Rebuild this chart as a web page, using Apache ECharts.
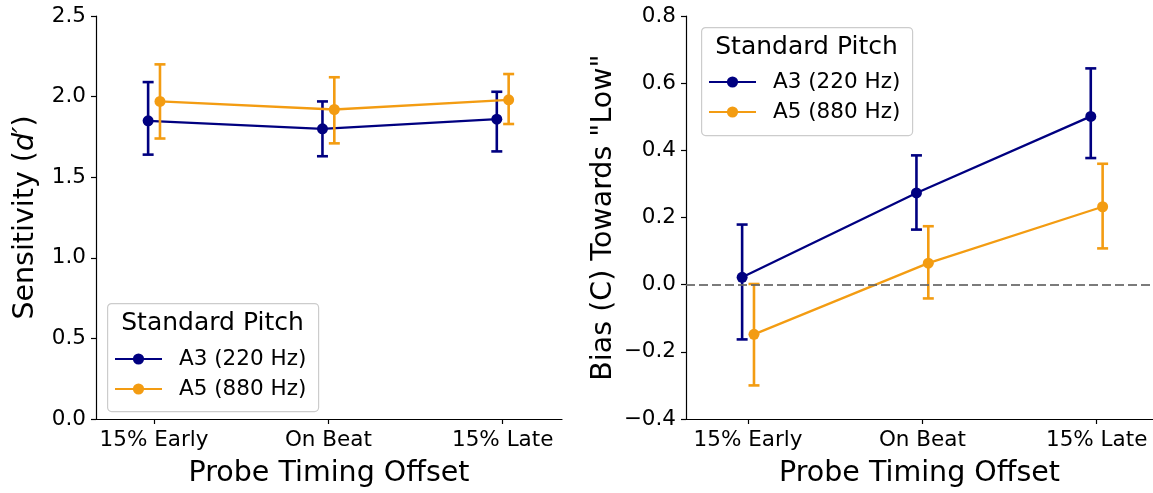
<!DOCTYPE html>
<html>
<head>
<meta charset="utf-8">
<script src="https://cdn.jsdelivr.net/npm/echarts@6/dist/echarts.min.js"></script>
<style>html,body{margin:0;padding:0;background:#fff}#c{width:1153px;height:493px}</style>
</head>
<body>
<div id="c"></div>
<script>
const categories = ['15% Early', 'On Beat', '15% Late'];
const seriesNames = ['A3 (220 Hz)', 'A5 (880 Hz)'];
const sensA3 = [1.85, 1.80, 1.86];
const sensA3Lo = [1.64, 1.63, 1.66];
const sensA3Hi = [2.09, 1.97, 2.03];
const sensA5 = [1.97, 1.92, 1.98];
const sensA5Lo = [1.74, 1.71, 1.83];
const sensA5Hi = [2.20, 2.12, 2.14];
const biasA3 = [0.022, 0.273, 0.501];
const biasA3Lo = [-0.163, 0.164, 0.377];
const biasA3Hi = [0.179, 0.385, 0.644];
const biasA5 = [-0.148, 0.064, 0.232];
const biasA5Lo = [-0.30, -0.041, 0.108];
const biasA5Hi = [0.002, 0.174, 0.360];
const legendTitle = 'Standard Pitch';

const COLORS = ['#000080', '#f39c12'];
const DODGE = [-0.034, 0.034];
const FONT = 'DejaVu Sans';
const TICK_FS = 21.5, LABEL_FS = 28.5, LEG_FS = 21.5, LEGT_FS = 25;

function pts(vals, s) { return vals.map((v, i) => [i + DODGE[s], v]); }
function errs(lo, hi, s) { return lo.map((l, i) => [i + DODGE[s], l, hi[i]]); }
function fmt(v) { return v.toFixed(1).replace('-', '\u2212'); }

function errRender(color) {
  return function (params, api) {
    const x = api.value(0), lo = api.value(1), hi = api.value(2);
    const a = api.coord([x, hi]), b = api.coord([x, lo]);
    const w = 5.5;
    const st = { stroke: color, lineWidth: 2.6, fill: null };
    return { type: 'group', children: [
      { type: 'line', shape: { x1: a[0], y1: a[1], x2: b[0], y2: b[1] }, style: st },
      { type: 'line', shape: { x1: a[0] - w, y1: a[1], x2: a[0] + w, y2: a[1] }, style: st },
      { type: 'line', shape: { x1: b[0] - w, y1: b[1], x2: b[0] + w, y2: b[1] }, style: st }
    ]};
  };
}

function xAxisDef(gi, min, max) {
  return {
    type: 'value', gridIndex: gi, min: min, max: max,
    name: 'Probe Timing Offset', nameLocation: 'middle', nameGap: 40,
    nameTextStyle: { fontSize: LABEL_FS, fontFamily: FONT, color: '#000' },
    axisLine: { show: true, onZero: false, lineStyle: { color: '#000', width: 1.2 } },
    axisTick: { show: true, length: 5, customValues: [0, 1, 2], lineStyle: { color: '#000', width: 1.2 } },
    axisLabel: { customValues: [0, 1, 2], margin: 10, fontSize: TICK_FS, fontFamily: FONT, color: '#000',
      formatter: v => categories[Math.round(v)] },
    splitLine: { show: false }
  };
}
function yAxisDef(gi, min, max, interval, name, gap) {
  return {
    type: 'value', gridIndex: gi, min: min, max: max, interval: interval,
    name: name, nameLocation: 'middle', nameGap: gap,
    nameTextStyle: { fontSize: LABEL_FS, fontFamily: FONT, color: '#000',
      rich: { i: { fontSize: LABEL_FS, fontFamily: FONT, fontStyle: 'italic', color: '#000' } } },
    axisLine: { show: true, onZero: false, lineStyle: { color: '#000', width: 1.2 } },
    axisTick: { show: true, length: 5, lineStyle: { color: '#000', width: 1.2 } },
    axisLabel: { margin: 10, fontSize: TICK_FS, fontFamily: FONT, color: '#000', formatter: fmt },
    splitLine: { show: false }
  };
}

function lineSeries(s, gi, data) {
  return {
    type: 'line', name: seriesNames[s], xAxisIndex: gi, yAxisIndex: gi, data: data,
    symbol: 'circle', symbolSize: 11, z: 3 + s,
    itemStyle: { color: COLORS[s] },
    lineStyle: { color: COLORS[s], width: 2.3 },
    animation: false
  };
}
function errSeries(s, gi, data) {
  return {
    type: 'custom', name: seriesNames[s] + ' CI', xAxisIndex: gi, yAxisIndex: gi, data: data,
    encode: { x: 0, y: [1, 2] }, renderItem: errRender(COLORS[s]), z: 3 + s, animation: false,
    itemStyle: { color: COLORS[s] }
  };
}

function legendDef(left, top) {
  return {
    data: seriesNames, orient: 'vertical', left: left, top: top, padding: 0,
    itemWidth: 47, itemHeight: 14, itemGap: 8, selectedMode: false,
    textStyle: { fontSize: LEG_FS, fontFamily: FONT, color: '#000', lineHeight: 22, padding: [0, 0, 0, 12] }
  };
}
function legendBox(x, y, w, h) {
  return [
    { type: 'rect', left: x, top: y, z: 1, shape: { width: w, height: h, r: 4 },
      style: { fill: 'rgba(255,255,255,0.8)', stroke: '#cccccc', lineWidth: 1.2 } },
    { type: 'text', x: x + w / 2, y: y + 20, z: 2,
      style: { text: legendTitle, fontSize: LEGT_FS, fontFamily: FONT, fill: '#000',
        align: 'center', verticalAlign: 'middle' } }
  ];
}

const chart = echarts.init(document.getElementById('c'), null, { renderer: 'canvas' });
chart.setOption({
  backgroundColor: '#fff',
  animation: false,
  grid: [
    { left: 96, top: 16, width: 466, height: 406 },
    { left: 686, top: 16, width: 467, height: 406 }
  ],
  xAxis: [xAxisDef(0, -0.333, 2.34), xAxisDef(1, -0.356, 2.323)],
  yAxis: [
    yAxisDef(0, 0, 2.5, 0.5, 'Sensitivity ({i|d\u2032})', 56),
    yAxisDef(1, -0.4, 0.8, 0.2, 'Bias (C) Towards "Low"', 68)
  ],
  legend: [legendDef(114, 348), legendDef(708, 71)],
  graphic: [].concat(legendBox(107, 303, 211, 108), legendBox(701, 27, 211, 108)),
  series: [
    errSeries(0, 0, errs(sensA3Lo, sensA3Hi, 0)),
    lineSeries(0, 0, pts(sensA3, 0)),
    errSeries(1, 0, errs(sensA5Lo, sensA5Hi, 1)),
    lineSeries(1, 0, pts(sensA5, 1)),
    Object.assign(errSeries(0, 1, errs(biasA3Lo, biasA3Hi, 0)), {
      markLine: { silent: true, symbol: 'none', label: { show: false },
        lineStyle: { color: 'rgba(100,100,100,0.85)', type: [9, 4], width: 2.2 },
        data: [{ yAxis: 0 }] }
    }),
    lineSeries(0, 1, pts(biasA3, 0)),
    errSeries(1, 1, errs(biasA5Lo, biasA5Hi, 1)),
    lineSeries(1, 1, pts(biasA5, 1))
  ]
});
</script>
</body>
</html>
